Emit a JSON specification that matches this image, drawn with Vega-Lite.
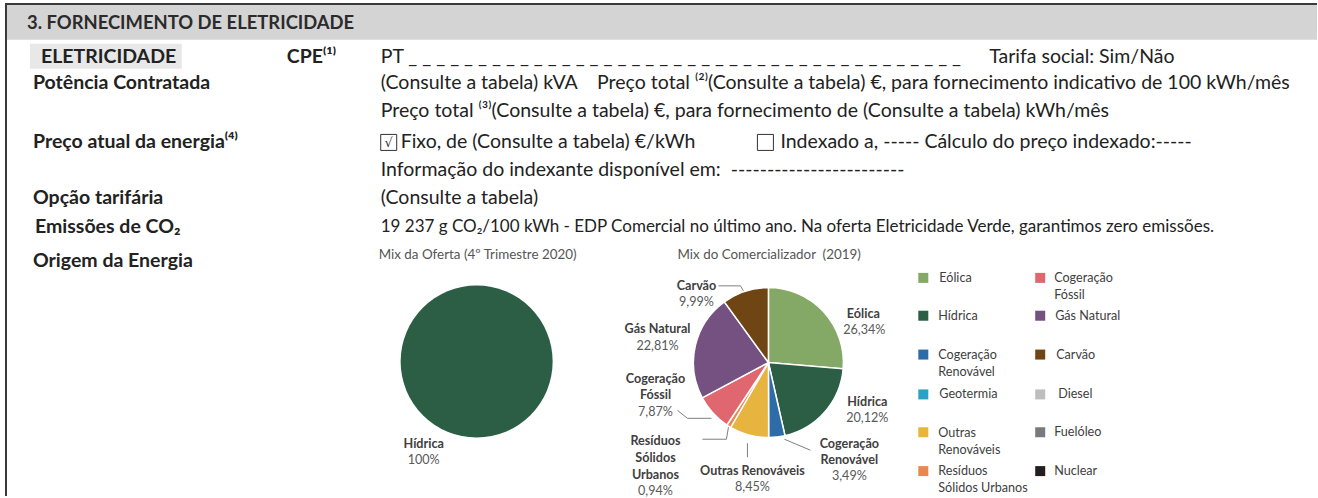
{
  "$schema": "https://vega.github.io/schema/vega-lite/v6.json",
  "width": 1318,
  "height": 498,
  "autosize": {"type": "fit", "contains": "padding"},
  "padding": 0,
  "background": "white",
  "config": {"view": {"stroke": null}},
  "encoding": {
    "x": {"field": "x", "type": "quantitative", "scale": {"domain": [0, 1318], "nice": false, "zero": false}, "axis": null},
    "y": {"field": "y", "type": "quantitative", "scale": {"domain": [0, 498], "nice": false, "zero": false, "reverse": true}, "axis": null}
  },
  "resolve": {"scale": {"theta": "independent"}},
  "layer": [
    {
      "data": {"values": [{"x": 5, "x2": 1318, "y": 5, "y2": 40}]},
      "mark": {"type": "rect", "fill": "#d4d4d4"},
      "encoding": {"x2": {"field": "x2"}, "y2": {"field": "y2"}}
    },
    {
      "data": {"values": [{"x": 30, "x2": 182, "y": 44, "y2": 69}]},
      "mark": {"type": "rect", "fill": "#e8e8e8"},
      "encoding": {"x2": {"field": "x2"}, "y2": {"field": "y2"}}
    },
    {
      "data": {"values": [{"x": 5, "x2": 1318, "y": 4, "y2": 4}, {"x": 6, "x2": 6, "y": 4, "y2": 498}]},
      "mark": {"type": "rule", "color": "#3a3a3a", "strokeWidth": 2},
      "encoding": {"x2": {"field": "x2"}, "y2": {"field": "y2"}}
    },
    {
      "data": {"values": [{"x": 27, "y": 23, "t": "3. FORNECIMENTO DE ELETRICIDADE"}]},
      "mark": {"type": "text", "align": "left", "baseline": "middle", "font": "Lato", "fontWeight": "bold", "fontSize": 18.4, "color": "#2b2b2b"},
      "encoding": {"text": {"field": "t"}}
    },
    {
      "data": {"values": [
        {"x": 41, "y": 57, "t": "ELETRICIDADE"},
        {"x": 287, "y": 57, "t": "CPE⁽¹⁾"},
        {"x": 33, "y": 83, "t": "Potência Contratada"},
        {"x": 33, "y": 143, "t": "Preço atual da energia⁽⁴⁾"},
        {"x": 33, "y": 199, "t": "Opção tarifária"},
        {"x": 35, "y": 228, "t": "Emissões de CO₂"},
        {"x": 33, "y": 262, "t": "Origem da Energia"}
      ]},
      "mark": {"type": "text", "align": "left", "baseline": "middle", "font": "Lato", "fontWeight": "bold", "fontSize": 19.5, "color": "#222222"},
      "encoding": {"text": {"field": "t"}}
    },
    {
      "data": {"values": [{"x": 389, "y": 143}, {"x": 766, "y": 143}]},
      "mark": {"type": "square", "filled": false, "size": 256, "stroke": "#333333", "strokeWidth": 1, "opacity": 1}
    },
    {
      "data": {"values": [{"x": 389, "y": 144, "t": "√"}]},
      "mark": {"type": "text", "align": "center", "baseline": "middle", "font": "DejaVu Sans", "fontSize": 13, "color": "#333333"},
      "encoding": {"text": {"field": "t"}}
    },
    {
      "data": {"values": [
        {"x": 381, "y": 57, "t": "PT _ _ _ _ _ _ _ _ _ _ _ _ _ _ _ _ _ _ _ _ _ _ _ _ _ _ _ _ _ _ _ _ _ _ _ _ _ _ _ _"},
        {"x": 990, "y": 57, "t": "Tarifa social: Sim/Não"},
        {"x": 381, "y": 83, "t": "(Consulte a tabela) kVA\u00a0\u00a0\u00a0\u00a0Preço total ⁽²⁾(Consulte a tabela) €, para fornecimento indicativo de 100 kWh/mês"},
        {"x": 381, "y": 111, "t": "Preço total ⁽³⁾(Consulte a tabela) €, para fornecimento de (Consulte a tabela) kWh/mês"},
        {"x": 401, "y": 143, "t": "Fixo, de (Consulte a tabela) €/kWh"},
        {"x": 781, "y": 143, "t": "Indexado a, ----- Cálculo do preço indexado:-----"},
        {"x": 381, "y": 171, "t": "Informação do indexante disponível em:\u00a0 ------------------------"},
        {"x": 381, "y": 199, "t": "(Consulte a tabela)"}
      ]},
      "mark": {"type": "text", "align": "left", "baseline": "middle", "font": "Lato", "fontSize": 19.5, "color": "#222222"},
      "encoding": {"text": {"field": "t"}}
    },
    {
      "data": {"values": [
        {"x": 381, "y": 228, "t": "19 237 g CO₂/100 kWh - EDP Comercial no último ano. Na oferta Eletricidade Verde, garantimos zero emissões."}
      ]},
      "mark": {"type": "text", "align": "left", "baseline": "middle", "font": "Lato", "fontSize": 17, "color": "#222222"},
      "encoding": {"text": {"field": "t"}}
    },
    {
      "data": {"values": [
        {"x": 379, "y": 256, "t": "Mix da Oferta (4º Trimestre 2020)"},
        {"x": 678, "y": 256, "t": "Mix do Comercializador\u00a0 (2019)"}
      ]},
      "mark": {"type": "text", "align": "left", "baseline": "middle", "font": "Lato", "fontSize": 13.4, "color": "#555555"},
      "encoding": {"text": {"field": "t"}}
    },
    {
      "data": {"values": [{"x": 477, "y": 363, "fonte": "Hídrica", "v": 100, "ord": 1}]},
      "mark": {"type": "arc", "radius": 76},
      "encoding": {
        "theta": {"field": "v", "type": "quantitative", "stack": true},
        "order": {"field": "ord"},
        "color": {"field": "fonte", "type": "nominal", "legend": null,
          "scale": {"domain": ["Eólica", "Hídrica", "Cogeração Renovável", "Geotermia", "Outras Renováveis", "Resíduos Sólidos Urbanos", "Cogeração Fóssil", "Gás Natural", "Carvão", "Diesel", "Fuelóleo", "Nuclear"],
                    "range": ["#84a865", "#2b5e45", "#2d6ca6", "#2ba1c6", "#e7b43f", "#ea874d", "#e06670", "#745180", "#6f4514", "#bdbec0", "#797a7d", "#231f20"]}}
      }
    },
    {
      "data": {"values": [
        {"x": 769, "y": 364, "fonte": "Eólica", "v": 26.34, "ord": 1},
        {"x": 769, "y": 364, "fonte": "Hídrica", "v": 20.12, "ord": 2},
        {"x": 769, "y": 364, "fonte": "Cogeração Renovável", "v": 3.49, "ord": 3},
        {"x": 769, "y": 364, "fonte": "Outras Renováveis", "v": 8.45, "ord": 4},
        {"x": 769, "y": 364, "fonte": "Resíduos Sólidos Urbanos", "v": 0.94, "ord": 5},
        {"x": 769, "y": 364, "fonte": "Cogeração Fóssil", "v": 7.87, "ord": 6},
        {"x": 769, "y": 364, "fonte": "Gás Natural", "v": 22.81, "ord": 7},
        {"x": 769, "y": 364, "fonte": "Carvão", "v": 9.99, "ord": 8}
      ]},
      "mark": {"type": "arc", "radius": 75, "stroke": "white", "strokeWidth": 1.5},
      "encoding": {
        "theta": {"field": "v", "type": "quantitative", "stack": true},
        "order": {"field": "ord"},
        "color": {"field": "fonte", "type": "nominal", "legend": null}
      }
    },
    {
      "data": {"values": [
        {"g": "a", "o": 1, "x": 719, "y": 287}, {"g": "a", "o": 2, "x": 741, "y": 287}, {"g": "a", "o": 3, "x": 744, "y": 292},
        {"g": "b", "o": 1, "x": 785, "y": 441}, {"g": "b", "o": 2, "x": 811, "y": 452},
        {"g": "c", "o": 1, "x": 748, "y": 445}, {"g": "c", "o": 2, "x": 748, "y": 459},
        {"g": "d", "o": 1, "x": 703, "y": 441}, {"g": "d", "o": 2, "x": 727, "y": 441}, {"g": "d", "o": 3, "x": 729, "y": 429},
        {"g": "e", "o": 1, "x": 678, "y": 412}, {"g": "e", "o": 2, "x": 688, "y": 420}, {"g": "e", "o": 3, "x": 712, "y": 420}
      ]},
      "mark": {"type": "line", "color": "#7f7f7f", "strokeWidth": 1},
      "encoding": {"detail": {"field": "g"}, "order": {"field": "o"}}
    },
    {
      "data": {"values": [
        {"x": 424, "y": 446, "t": "Hídrica"},
        {"x": 697, "y": 287, "t": "Carvão"},
        {"x": 864, "y": 315, "t": "Eólica"},
        {"x": 658, "y": 330, "t": "Gás Natural"},
        {"x": 656, "y": 381, "t": "Cogeração"},
        {"x": 656, "y": 397, "t": "Fóssil"},
        {"x": 868, "y": 404, "t": "Hídrica"},
        {"x": 850, "y": 446, "t": "Cogeração"},
        {"x": 850, "y": 462, "t": "Renovável"},
        {"x": 656, "y": 443, "t": "Resíduos"},
        {"x": 656, "y": 460, "t": "Sólidos"},
        {"x": 656, "y": 477, "t": "Urbanos"},
        {"x": 753, "y": 473, "t": "Outras Renováveis"}
      ]},
      "mark": {"type": "text", "align": "center", "baseline": "middle", "font": "Lato", "fontWeight": "bold", "fontSize": 12.6, "color": "#404040"},
      "encoding": {"text": {"field": "t"}}
    },
    {
      "data": {"values": [
        {"x": 424, "y": 462, "t": "100%"},
        {"x": 697, "y": 303, "t": "9,99%"},
        {"x": 865, "y": 331, "t": "26,34%"},
        {"x": 658, "y": 347, "t": "22,81%"},
        {"x": 656, "y": 414, "t": "7,87%"},
        {"x": 868, "y": 420, "t": "20,12%"},
        {"x": 850, "y": 478, "t": "3,49%"},
        {"x": 656, "y": 493, "t": "0,94%"},
        {"x": 753, "y": 489, "t": "8,45%"}
      ]},
      "mark": {"type": "text", "align": "center", "baseline": "middle", "font": "Lato", "fontSize": 12.6, "color": "#595959"},
      "encoding": {"text": {"field": "t"}}
    },
    {
      "data": {"values": [
        {"x": 924, "y": 279, "fonte": "Eólica"},
        {"x": 924, "y": 317, "fonte": "Hídrica"},
        {"x": 924, "y": 356, "fonte": "Cogeração Renovável"},
        {"x": 924, "y": 396, "fonte": "Geotermia"},
        {"x": 924, "y": 434, "fonte": "Outras Renováveis"},
        {"x": 924, "y": 473, "fonte": "Resíduos Sólidos Urbanos"},
        {"x": 1041, "y": 279, "fonte": "Cogeração Fóssil"},
        {"x": 1041, "y": 317, "fonte": "Gás Natural"},
        {"x": 1041, "y": 356, "fonte": "Carvão"},
        {"x": 1041, "y": 396, "fonte": "Diesel"},
        {"x": 1041, "y": 434, "fonte": "Fuelóleo"},
        {"x": 1041, "y": 473, "fonte": "Nuclear"}
      ]},
      "mark": {"type": "square", "filled": true, "size": 100, "opacity": 1},
      "encoding": {"color": {"field": "fonte", "type": "nominal", "legend": null}}
    },
    {
      "data": {"values": [
        {"x": 940, "y": 279, "t": "Eólica"},
        {"x": 939, "y": 317, "t": "Hídrica"},
        {"x": 939, "y": 356, "t": "Cogeração"},
        {"x": 939, "y": 373, "t": "Renovável"},
        {"x": 940, "y": 396, "t": "Geotermia"},
        {"x": 939, "y": 435, "t": "Outras"},
        {"x": 939, "y": 452, "t": "Renováveis"},
        {"x": 939, "y": 473, "t": "Resíduos"},
        {"x": 939, "y": 490, "t": "Sólidos Urbanos"},
        {"x": 1055, "y": 279, "t": "Cogeração"},
        {"x": 1055, "y": 296, "t": "Fóssil"},
        {"x": 1056, "y": 317, "t": "Gás Natural"},
        {"x": 1057, "y": 356, "t": "Carvão"},
        {"x": 1059, "y": 396, "t": "Diesel"},
        {"x": 1055, "y": 434, "t": "Fuelóleo"},
        {"x": 1055, "y": 473, "t": "Nuclear"}
      ]},
      "mark": {"type": "text", "align": "left", "baseline": "middle", "font": "Lato", "fontSize": 12.6, "color": "#404040"},
      "encoding": {"text": {"field": "t"}}
    }
  ]
}
